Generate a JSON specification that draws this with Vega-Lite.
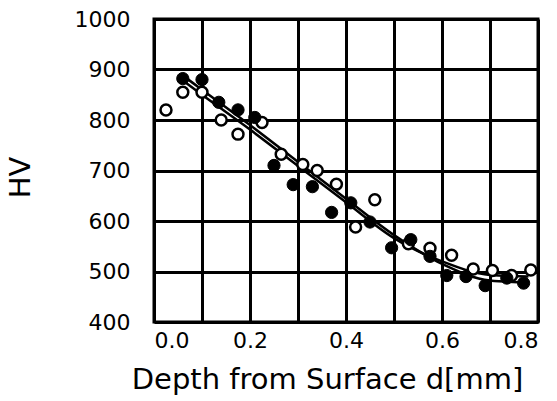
{
  "$schema": "https://vega.github.io/schema/vega-lite/v6.json",
  "autosize": "none",
  "width": 384,
  "height": 303,
  "padding": {"left": 154, "top": 19, "right": 19, "bottom": 79},
  "background": "white",
  "config": {
    "view": {"stroke": "black", "strokeWidth": 3},
    "font": "DejaVu Sans",
    "axis": {
      "grid": true, "gridColor": "black", "gridWidth": 3, "gridOpacity": 1,
      "domain": false, "ticks": false,
      "labelFont": "DejaVu Sans", "labelFontSize": 22, "labelColor": "black",
      "titleFont": "DejaVu Sans", "titleFontSize": 29, "titleFontWeight": "normal", "titleColor": "black"
    }
  },
  "datasets": {
    "pts": [
      {"d": 0.06, "hv": 882, "s": "filled"},
      {"d": 0.10, "hv": 880, "s": "filled"},
      {"d": 0.135, "hv": 835, "s": "filled"},
      {"d": 0.175, "hv": 820, "s": "filled"},
      {"d": 0.21, "hv": 805, "s": "filled"},
      {"d": 0.25, "hv": 710, "s": "filled"},
      {"d": 0.29, "hv": 672, "s": "filled"},
      {"d": 0.33, "hv": 668, "s": "filled"},
      {"d": 0.37, "hv": 617, "s": "filled"},
      {"d": 0.41, "hv": 636, "s": "filled"},
      {"d": 0.45, "hv": 598, "s": "filled"},
      {"d": 0.495, "hv": 547, "s": "filled"},
      {"d": 0.535, "hv": 563, "s": "filled"},
      {"d": 0.575, "hv": 530, "s": "filled"},
      {"d": 0.61, "hv": 492, "s": "filled"},
      {"d": 0.65, "hv": 490, "s": "filled"},
      {"d": 0.69, "hv": 472, "s": "filled"},
      {"d": 0.735, "hv": 487, "s": "filled"},
      {"d": 0.77, "hv": 477, "s": "filled"},
      {"d": 0.025, "hv": 820, "s": "open"},
      {"d": 0.06, "hv": 855, "s": "open"},
      {"d": 0.10, "hv": 855, "s": "open"},
      {"d": 0.14, "hv": 800, "s": "open"},
      {"d": 0.175, "hv": 772, "s": "open"},
      {"d": 0.225, "hv": 795, "s": "open"},
      {"d": 0.265, "hv": 732, "s": "open"},
      {"d": 0.31, "hv": 712, "s": "open"},
      {"d": 0.34, "hv": 700, "s": "open"},
      {"d": 0.38, "hv": 673, "s": "open"},
      {"d": 0.42, "hv": 588, "s": "open"},
      {"d": 0.46, "hv": 642, "s": "open"},
      {"d": 0.53, "hv": 555, "s": "open"},
      {"d": 0.575, "hv": 546, "s": "open"},
      {"d": 0.62, "hv": 532, "s": "open"},
      {"d": 0.665, "hv": 505, "s": "open"},
      {"d": 0.705, "hv": 502, "s": "open"},
      {"d": 0.745, "hv": 492, "s": "open"},
      {"d": 0.785, "hv": 503, "s": "open"}
    ],
    "fits": [
      {"d": 0.06, "hv": 888, "s": "A"},
      {"d": 0.10, "hv": 860, "s": "A"},
      {"d": 0.20, "hv": 790, "s": "A"},
      {"d": 0.30, "hv": 717, "s": "A"},
      {"d": 0.40, "hv": 644, "s": "A"},
      {"d": 0.50, "hv": 572, "s": "A"},
      {"d": 0.60, "hv": 515, "s": "A"},
      {"d": 0.70, "hv": 482, "s": "A"},
      {"d": 0.78, "hv": 478, "s": "A"},
      {"d": 0.06, "hv": 878, "s": "B"},
      {"d": 0.10, "hv": 850, "s": "B"},
      {"d": 0.20, "hv": 781, "s": "B"},
      {"d": 0.30, "hv": 709, "s": "B"},
      {"d": 0.40, "hv": 637, "s": "B"},
      {"d": 0.50, "hv": 566, "s": "B"},
      {"d": 0.60, "hv": 520, "s": "B"},
      {"d": 0.70, "hv": 493, "s": "B"},
      {"d": 0.78, "hv": 490, "s": "B"}
    ]
  },
  "encoding": {
    "x": {
      "field": "d", "type": "quantitative",
      "scale": {"domain": [0, 0.8], "nice": false, "zero": false},
      "axis": {
        "values": [0, 0.1, 0.2, 0.3, 0.4, 0.5, 0.6, 0.7, 0.8],
        "labelExpr": "round(datum.value*10) % 2 == 0 ? format(datum.value, '.1f') : ''",
        "labelPadding": 8,
        "title": "Depth from Surface d[mm]",
        "titlePadding": 14,
        "titleX": 173
      }
    },
    "y": {
      "field": "hv", "type": "quantitative",
      "scale": {"domain": [400, 1000], "nice": false, "zero": false},
      "axis": {
        "values": [400, 500, 600, 700, 800, 900, 1000],
        "format": "d",
        "labelPadding": 24,
        "title": "HV",
        "titleAngle": -90,
        "titleX": -134,
        "titleY": 158,
        "titleAlign": "center",
        "titleBaseline": "middle"
      }
    }
  },
  "layer": [
    {
      "data": {"name": "fits"},
      "mark": {"type": "line", "color": "black", "strokeWidth": 2.5, "interpolate": "monotone"},
      "encoding": {"detail": {"field": "s"}}
    },
    {
      "data": {"name": "pts"},
      "transform": [{"filter": "datum.s == 'open'"}],
      "mark": {"type": "point", "shape": "circle", "filled": true, "fill": "white", "stroke": "black", "strokeWidth": 2.5, "size": 120, "opacity": 1}
    },
    {
      "data": {"name": "pts"},
      "transform": [{"filter": "datum.s == 'filled'"}],
      "mark": {"type": "point", "shape": "circle", "filled": true, "fill": "black", "stroke": "black", "strokeWidth": 1, "size": 150, "opacity": 1}
    }
  ]
}
